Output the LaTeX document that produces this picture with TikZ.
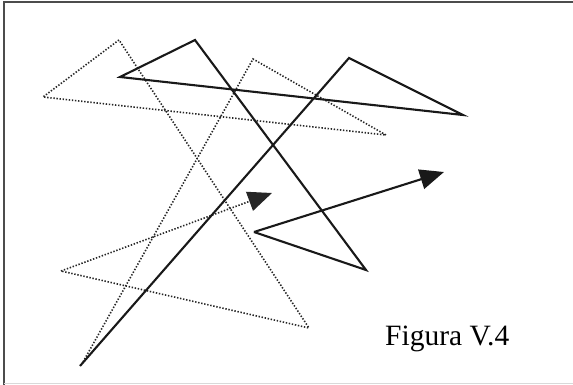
\documentclass[tikz,border=0pt]{standalone}
\usepackage{fontspec}
\setmainfont{Liberation Serif}
\usetikzlibrary{arrows.meta}
\begin{document}
\begin{tikzpicture}[x=1pt,y=-1pt,
  solidpath/.style={line width=2.1pt, line join=miter, black!90},
  dotpath/.style={line width=1.6pt, dash pattern=on 1.4pt off 1.7pt, black!85},
  bighead/.style={-{Triangle[length=24pt,width=20pt]}},
  framestyle/.style={line width=1.4pt, black!70}]
\useasboundingbox (0,0) rectangle (573,385);
% frame
\coordinate (f1) at (4,385);
\coordinate (f2) at (4,2);
\coordinate (f3) at (573,2);
\coordinate (f4) at (4,383);
\coordinate (f5) at (573,383);
\draw[framestyle] (f1) -- (f2) -- (f3);
\draw[line width=0.8pt, black!15] (f4) -- (f5);
% dotted path vertices
\coordinate (d0) at (83,362);
\coordinate (d1) at (253,59);
\coordinate (d2) at (386,135);
\coordinate (d3) at (43,97);
\coordinate (d4) at (119,40);
\coordinate (d5) at (309,328);
\coordinate (d6) at (61,271);
\coordinate (d7) at (272,193);
% solid path vertices
\coordinate (s0) at (80,366);
\coordinate (s1) at (349,58);
\coordinate (s2) at (463,115);
\coordinate (s3) at (120,77);
\coordinate (s4) at (195,40);
\coordinate (s5) at (366,270);
\coordinate (s6) at (254,232);
\coordinate (s7) at (444,172);
\draw[dotpath] (d0) -- (d1) -- (d2) -- (d3) -- (d4) -- (d5) -- (d6);
\draw[dotpath, bighead] (d6) -- (d7);
\draw[solidpath] (s0) -- (s1) -- (s2) -- (s3) -- (s4) -- (s5) -- (s6);
\draw[solidpath, bighead] (s6) -- (s7);
\node[font=\fontsize{29.5}{32}\selectfont, anchor=base west, inner sep=0pt] (cap) at (385,345) {Figura V.4};
\end{tikzpicture}
\end{document}
